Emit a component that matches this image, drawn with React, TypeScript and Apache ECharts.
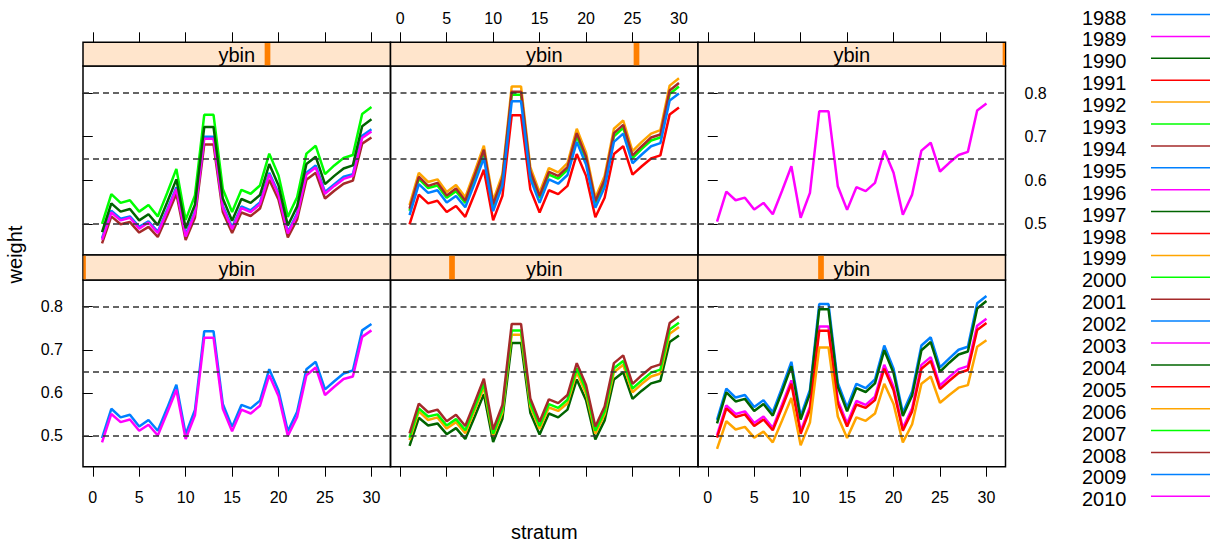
import React, { useEffect, useRef } from "react";
import * as echarts from "echarts";

// ---------- data ----------
const strata = [1, 2, 3, 4, 5, 6, 7, 8, 9, 10, 11, 12, 13, 14, 15, 16, 17, 18, 19, 20, 21, 22, 23, 24, 25, 26, 27, 28, 29, 30];
const years = [1988, 1989, 1990, 1991, 1992, 1993, 1994, 1995, 1996, 1997, 1998, 1999, 2000, 2001, 2002, 2003, 2004, 2005, 2006, 2007, 2008, 2009, 2010];
const xTicks = [0, 5, 10, 15, 20, 25, 30];
const yTicks = [0.5, 0.6, 0.7, 0.8];
const refLines = [0.5, 0.65, 0.8];
// panels in lattice order: bottom-left, bottom-middle, bottom-right, top-left, top-middle, top-right
const panelYears = [
  [1988, 1989],
  [1990, 1992, 1993, 1994],
  [1995, 1996, 1997, 1998, 1999],
  [2000, 2001, 2002, 2003, 2004],
  [2005, 2006, 2007, 2008, 2009],
  [2010],
];
const panelLevel = [0, 0.2, 0.4, 0.6, 0.8, 1.0];

const w1988 = [0.495, 0.563, 0.543, 0.549, 0.522, 0.537, 0.512, 0.564, 0.619, 0.504, 0.560, 0.743, 0.743, 0.574, 0.521, 0.572, 0.564, 0.582, 0.655, 0.605, 0.511, 0.556, 0.655, 0.672, 0.608, 0.627, 0.645, 0.652, 0.745, 0.760];
const w1989 = [0.485, 0.551, 0.532, 0.538, 0.512, 0.526, 0.501, 0.553, 0.607, 0.493, 0.548, 0.728, 0.728, 0.563, 0.511, 0.561, 0.552, 0.570, 0.641, 0.592, 0.500, 0.544, 0.641, 0.659, 0.595, 0.614, 0.632, 0.638, 0.730, 0.745];
const w1990 = [0.477, 0.542, 0.524, 0.529, 0.504, 0.518, 0.493, 0.544, 0.597, 0.486, 0.540, 0.716, 0.716, 0.554, 0.503, 0.552, 0.543, 0.561, 0.631, 0.583, 0.492, 0.536, 0.631, 0.648, 0.586, 0.605, 0.622, 0.628, 0.718, 0.733];
const w1992 = [0.490, 0.557, 0.537, 0.543, 0.517, 0.532, 0.506, 0.559, 0.613, 0.499, 0.554, 0.735, 0.735, 0.568, 0.516, 0.566, 0.558, 0.576, 0.648, 0.598, 0.505, 0.550, 0.648, 0.665, 0.601, 0.621, 0.638, 0.645, 0.737, 0.753];
const w1993 = [0.496, 0.564, 0.545, 0.550, 0.524, 0.539, 0.513, 0.566, 0.621, 0.505, 0.561, 0.745, 0.745, 0.576, 0.523, 0.574, 0.565, 0.584, 0.657, 0.607, 0.512, 0.557, 0.657, 0.674, 0.610, 0.629, 0.647, 0.654, 0.747, 0.763];
const w1994 = [0.506, 0.575, 0.555, 0.561, 0.534, 0.549, 0.523, 0.577, 0.633, 0.515, 0.572, 0.760, 0.760, 0.587, 0.533, 0.585, 0.576, 0.595, 0.669, 0.618, 0.522, 0.568, 0.669, 0.687, 0.621, 0.641, 0.659, 0.666, 0.762, 0.778];
const w1995 = [0.537, 0.610, 0.589, 0.595, 0.567, 0.583, 0.555, 0.612, 0.672, 0.546, 0.607, 0.806, 0.806, 0.623, 0.566, 0.621, 0.611, 0.631, 0.710, 0.656, 0.554, 0.603, 0.710, 0.729, 0.659, 0.680, 0.700, 0.707, 0.808, 0.825];
const w1996 = [0.502, 0.571, 0.551, 0.557, 0.530, 0.545, 0.519, 0.573, 0.629, 0.511, 0.568, 0.754, 0.754, 0.583, 0.529, 0.581, 0.572, 0.591, 0.665, 0.614, 0.518, 0.564, 0.665, 0.683, 0.617, 0.637, 0.655, 0.662, 0.756, 0.772];
const w1997 = [0.529, 0.601, 0.580, 0.586, 0.558, 0.574, 0.547, 0.603, 0.662, 0.538, 0.598, 0.794, 0.794, 0.614, 0.557, 0.611, 0.602, 0.622, 0.699, 0.646, 0.546, 0.594, 0.699, 0.718, 0.649, 0.670, 0.689, 0.696, 0.796, 0.813];
const w1998 = [0.496, 0.564, 0.544, 0.550, 0.523, 0.538, 0.513, 0.566, 0.621, 0.505, 0.561, 0.744, 0.744, 0.575, 0.522, 0.573, 0.565, 0.583, 0.656, 0.606, 0.512, 0.557, 0.656, 0.674, 0.609, 0.628, 0.646, 0.653, 0.746, 0.762];
const w1999 = [0.470, 0.534, 0.515, 0.521, 0.496, 0.510, 0.485, 0.536, 0.588, 0.478, 0.531, 0.705, 0.705, 0.545, 0.495, 0.543, 0.535, 0.552, 0.621, 0.574, 0.485, 0.527, 0.621, 0.638, 0.577, 0.595, 0.612, 0.618, 0.707, 0.722];
const w2000 = [0.500, 0.568, 0.548, 0.554, 0.528, 0.543, 0.517, 0.570, 0.626, 0.509, 0.565, 0.750, 0.750, 0.580, 0.527, 0.578, 0.569, 0.588, 0.661, 0.611, 0.516, 0.561, 0.661, 0.679, 0.614, 0.634, 0.651, 0.658, 0.752, 0.768];
const w2001 = [0.455, 0.517, 0.499, 0.504, 0.480, 0.493, 0.470, 0.518, 0.569, 0.463, 0.514, 0.682, 0.682, 0.527, 0.479, 0.526, 0.518, 0.535, 0.601, 0.555, 0.469, 0.510, 0.601, 0.617, 0.558, 0.576, 0.592, 0.599, 0.684, 0.698];
const w2002 = [0.467, 0.530, 0.512, 0.517, 0.493, 0.506, 0.482, 0.532, 0.584, 0.475, 0.528, 0.700, 0.700, 0.541, 0.492, 0.540, 0.531, 0.549, 0.617, 0.570, 0.481, 0.524, 0.617, 0.634, 0.573, 0.591, 0.608, 0.614, 0.702, 0.717];
const w2003 = [0.463, 0.526, 0.508, 0.514, 0.489, 0.503, 0.479, 0.528, 0.580, 0.471, 0.524, 0.695, 0.695, 0.537, 0.488, 0.536, 0.527, 0.545, 0.613, 0.566, 0.478, 0.520, 0.613, 0.629, 0.569, 0.587, 0.603, 0.610, 0.697, 0.712];
const w2004 = [0.481, 0.547, 0.528, 0.534, 0.508, 0.522, 0.497, 0.549, 0.602, 0.490, 0.544, 0.722, 0.722, 0.558, 0.507, 0.557, 0.548, 0.566, 0.637, 0.588, 0.496, 0.540, 0.637, 0.654, 0.591, 0.610, 0.627, 0.634, 0.724, 0.740];
const w2005 = [0.499, 0.567, 0.547, 0.553, 0.527, 0.541, 0.516, 0.569, 0.624, 0.508, 0.564, 0.749, 0.749, 0.579, 0.526, 0.577, 0.568, 0.587, 0.660, 0.610, 0.515, 0.560, 0.660, 0.678, 0.613, 0.632, 0.650, 0.657, 0.751, 0.767];
const w2006 = [0.543, 0.617, 0.596, 0.602, 0.573, 0.589, 0.561, 0.619, 0.679, 0.553, 0.614, 0.815, 0.815, 0.630, 0.572, 0.628, 0.618, 0.639, 0.718, 0.663, 0.560, 0.610, 0.718, 0.737, 0.667, 0.688, 0.707, 0.715, 0.817, 0.834];
const w2007 = [0.530, 0.603, 0.582, 0.588, 0.560, 0.575, 0.548, 0.605, 0.664, 0.540, 0.600, 0.796, 0.796, 0.615, 0.559, 0.613, 0.604, 0.624, 0.701, 0.648, 0.547, 0.595, 0.701, 0.720, 0.651, 0.672, 0.691, 0.698, 0.798, 0.815];
const w2008 = [0.535, 0.608, 0.587, 0.594, 0.565, 0.581, 0.553, 0.611, 0.670, 0.545, 0.605, 0.803, 0.803, 0.621, 0.564, 0.619, 0.610, 0.630, 0.708, 0.654, 0.552, 0.601, 0.708, 0.727, 0.657, 0.678, 0.698, 0.705, 0.806, 0.823];
const w2009 = [0.520, 0.591, 0.571, 0.577, 0.549, 0.564, 0.538, 0.593, 0.651, 0.529, 0.588, 0.781, 0.781, 0.604, 0.548, 0.602, 0.592, 0.612, 0.688, 0.636, 0.537, 0.584, 0.688, 0.707, 0.639, 0.659, 0.678, 0.685, 0.783, 0.799];
const w2010 = [0.505, 0.574, 0.554, 0.560, 0.533, 0.548, 0.522, 0.576, 0.632, 0.514, 0.571, 0.758, 0.758, 0.586, 0.532, 0.584, 0.575, 0.594, 0.668, 0.617, 0.521, 0.567, 0.668, 0.686, 0.620, 0.640, 0.658, 0.665, 0.760, 0.776];

const weights: Record<number, number[]> = {
  1988: w1988, 1989: w1989, 1990: w1990, 1992: w1992, 1993: w1993, 1994: w1994,
  1995: w1995, 1996: w1996, 1997: w1997, 1998: w1998, 1999: w1999, 2000: w2000,
  2001: w2001, 2002: w2002, 2003: w2003, 2004: w2004, 2005: w2005, 2006: w2006,
  2007: w2007, 2008: w2008, 2009: w2009, 2010: w2010,
};

// ---------- styles / layout ----------
const FONT = '"Liberation Sans", Arial, Helvetica, sans-serif';
const PALETTE = ["#0080ff", "#ff00ff", "#006400", "#ff0000", "#ffa500", "#00ff00", "#a52a2a"];
const colorOf = (y: number) => PALETTE[(y - years[0]) % PALETTE.length];
const XMIN = -1.05, XMAX = 32.05;
const YMIN = 0.4285, YMAX = 0.862;
const COL_X = [83, 390.5, 698];
const PW = 307.5;
const ROW = {
  bottom: { top: 280, height: 186.7, stripTop: 255, stripH: 25 },
  top: { top: 66, height: 189, stripTop: 42.3, stripH: 23.7 },
};

function buildOption() {
  const grids: any[] = [];
  const xAxes: any[] = [];
  const yAxes: any[] = [];
  const series: any[] = [];
  const graphics: any[] = [];

  panelYears.forEach((ys, p) => {
    const isTop = p >= 3;
    const col = p % 3;
    const r = isTop ? ROW.top : ROW.bottom;
    const left = COL_X[col];
    grids.push({
      left, top: r.top, width: PW, height: r.height,
      show: true, borderColor: "#000", borderWidth: 1.5, backgroundColor: "transparent",
      containLabel: false, outerBoundsMode: "none",
    });
    const xLabel = p === 0 || p === 2 || p === 4;
    xAxes.push({
      gridIndex: p, type: "value", min: XMIN, max: XMAX,
      position: isTop ? "top" : "bottom", offset: isTop ? r.top - r.stripTop : 0,
      axisLine: { show: false }, splitLine: { show: false },
      axisTick: { show: true, inside: false, length: 10, customValues: xTicks, lineStyle: { color: "#000", width: 1 } },
      axisLabel: { show: xLabel, customValues: xTicks, color: "#000", fontSize: 16, fontFamily: FONT, margin: isTop ? 16 : 23 },
    });
    const yTickShow = p === 0 || p === 2 || p === 3 || p === 5;
    const yLabel = p === 0 || p === 5;
    yAxes.push({
      gridIndex: p, type: "value", min: YMIN, max: YMAX,
      position: col === 2 ? "right" : "left",
      axisLine: { show: false }, splitLine: { show: false },
      axisTick: { show: yTickShow, inside: false, length: 10, customValues: yTicks, lineStyle: { color: "#000", width: 1 } },
      axisLabel: { show: yLabel, customValues: yTicks, color: "#000", fontSize: 16, fontFamily: FONT, margin: col === 2 ? 19 : 20, formatter: (v: number) => v.toFixed(1) },
    });
    series.push({
      type: "line", name: "ref" + p, xAxisIndex: p, yAxisIndex: p, data: [], z: 1, silent: true,
      markLine: {
        symbol: ["none", "none"], silent: true, label: { show: false },
        lineStyle: { type: [6, 4], color: "#333", width: 1.5 },
        emphasis: { disabled: true },
        data: refLines.map((v) => ({ yAxis: v })),
      },
    });
    ys.forEach((yr) => {
      const c = colorOf(yr);
      series.push({
        type: "line", name: String(yr), xAxisIndex: p, yAxisIndex: p, z: 3, silent: true,
        symbol: "none", showSymbol: false,
        lineStyle: { color: c, width: 2.5 }, itemStyle: { color: c },
        emphasis: { disabled: true },
        data: strata.map((s, i) => [s, weights[yr][i]]),
      });
    });

    // strip
    graphics.push({
      type: "rect", shape: { x: left, y: r.stripTop, width: PW, height: r.stripH },
      style: { fill: "#ffe5cc", stroke: "#000", lineWidth: 1.5 }, z: 10,
    });
    const cx = left + panelLevel[p] * PW;
    const bx0 = Math.max(left + 0.5, cx - 2.85);
    const bx1 = Math.min(left + PW - 0.5, cx + 2.85);
    graphics.push({
      type: "rect", shape: { x: bx0, y: r.stripTop + 0.75, width: bx1 - bx0, height: r.stripH - 1.5 },
      style: { fill: "#ff7f00" }, z: 11,
    });
    graphics.push({
      type: "text", x: left + PW / 2, y: r.stripTop + r.stripH / 2 + 1, z: 12,
      style: { text: "ybin", fontSize: 20, fontFamily: FONT, fill: "#000", textAlign: "center", textVerticalAlign: "middle" },
    });
  });

  // axis titles
  graphics.push({
    type: "text", x: (COL_X[0] + COL_X[2] + PW) / 2, y: 532, z: 12,
    style: { text: "stratum", fontSize: 20, fontFamily: FONT, fill: "#000", textAlign: "center", textVerticalAlign: "middle" },
  });
  graphics.push({
    type: "text", x: 15, y: 254.5, rotation: Math.PI / 2, z: 12,
    style: { text: "weight", fontSize: 20, fontFamily: FONT, fill: "#000", textAlign: "center", textVerticalAlign: "middle" },
  });

  // key
  years.forEach((yr, i) => {
    const yc = 17.5 + i * 21.9;
    graphics.push({
      type: "text", x: 1082, y: yc, z: 12,
      style: { text: String(yr), fontSize: 20, fontFamily: FONT, fill: "#000", textAlign: "left", textVerticalAlign: "middle" },
    });
    graphics.push({
      type: "line", shape: { x1: 1151, y1: yc - 3, x2: 1210, y2: yc - 3 }, z: 12,
      style: { stroke: colorOf(yr), lineWidth: 1.5 },
    });
  });

  return {
    animation: false,
    backgroundColor: "#fff",
    textStyle: { fontFamily: FONT },
    grid: grids,
    xAxis: xAxes,
    yAxis: yAxes,
    series,
    graphic: graphics,
  };
}

export default function App() {
  const ref = useRef<HTMLDivElement>(null);
  useEffect(() => {
    if (!ref.current) return;
    const chart = echarts.init(ref.current, undefined, { renderer: "svg" });
    chart.setOption(buildOption() as any);
    return () => chart.dispose();
  }, []);
  return <div ref={ref} style={{ position: "absolute", left: 0, top: 0, width: 1215, height: 546 }} />;
}
